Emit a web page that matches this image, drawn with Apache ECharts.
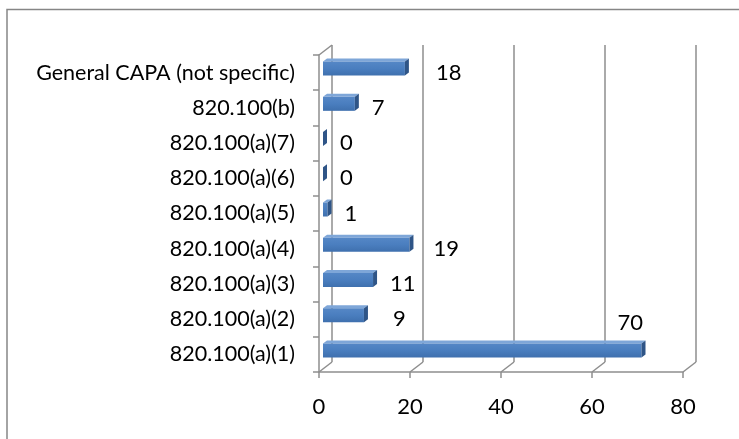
<!DOCTYPE html>
<html>
<head>
<meta charset="utf-8">
<script src="https://cdn.jsdelivr.net/npm/echarts@6/dist/echarts.min.js"></script>
<style>
  html, body { margin: 0; padding: 0; background: #ffffff; }
  #chart { width: 739px; height: 439px; }
</style>
</head>
<body>
<div id="chart"></div>
<script>
// Findings by regulation section (bottom to top on the axis)
const categories = [
  '820.100(a)(1)', '820.100(a)(2)', '820.100(a)(3)', '820.100(a)(4)',
  '820.100(a)(5)', '820.100(a)(6)', '820.100(a)(7)', '820.100(b)',
  'General CAPA (not specific)'
];
const counts = [70, 9, 11, 19, 1, 0, 0, 7, 18];
const xTicks = [0, 20, 40, 60, 80];

// Layout of the pseudo-3D frame and bars
const DEPTH_X = 13, DEPTH_Y = -10;      // back wall offset
const BAR_X = 4, BAR_Y = -4;            // bar sits a little into the depth
const BAR_HALF = 7;                     // half thickness of the bar face
const CAP_X = 4, CAP_Y = -3;            // visible end / top faces
const LABEL_GAP = 13;
// hand placed data-label nudges (dx, dy) per bar
const labelNudgeX = [-41, 12, 0, 7, 0, 0, 0, 0, 14];
const labelNudgeY = [-31, 0, 0, 0, 0, 0, 0, 0, 0];

const FONT = 'Lato, "Open Sans", sans-serif';
const GRID_COLOR = '#8e8e8e';

const chart = echarts.init(document.getElementById('chart'), null, { renderer: 'canvas' });

function frameItem(params, api) {
  const v = api.value(0);
  const band = api.size([0, 1])[1];
  const lastCat = categories.length - 1;
  const pBottom = api.coord([v, 0]);
  const pTop = api.coord([v, lastCat]);
  const x = pBottom[0];
  const yb = pBottom[1] + band / 2;
  const yt = pTop[1] - band / 2;
  const style = { stroke: GRID_COLOR, lineWidth: 1.5, fill: null };
  const children = [
    { type: 'line', shape: { x1: x + DEPTH_X, y1: yt + DEPTH_Y, x2: x + DEPTH_X, y2: yb + DEPTH_Y }, style },
    { type: 'line', shape: { x1: x, y1: yb, x2: x + DEPTH_X, y2: yb + DEPTH_Y }, style }
  ];
  if (v === 0) {
    children.push({ type: 'line', shape: { x1: x, y1: yt, x2: x + DEPTH_X, y2: yt + DEPTH_Y }, style });
  }
  return { type: 'group', children };
}

function barItem(params, api) {
  const idx = api.value(0);
  const val = api.value(1);
  const p0 = api.coord([0, idx]);
  const p1 = api.coord([val, idx]);
  const x0 = p0[0] + BAR_X;
  const x1 = p1[0] + BAR_X;
  const yc = p0[1] + BAR_Y;
  const top = yc - BAR_HALF, bot = yc + BAR_HALF;
  const face = {
    type: 'linear', x: 0, y: 0, x2: 0, y2: 1,
    colorStops: [
      { offset: 0, color: '#5587c6' },
      { offset: 0.5, color: '#4a7ebf' },
      { offset: 1, color: '#3f70ae' }
    ]
  };
  const children = [
    { type: 'polygon', shape: { points: [[x0, top], [x0 + CAP_X, top + CAP_Y], [x1 + CAP_X, top + CAP_Y], [x1, top]] },
      style: { fill: '#7ea6d8' } },
    { type: 'rect', shape: { x: x0, y: top, width: Math.max(x1 - x0, 0), height: bot - top },
      style: { fill: face } },
    { type: 'polygon', shape: { points: [[x1, top], [x1 + CAP_X, top + CAP_Y], [x1 + CAP_X, bot + CAP_Y], [x1, bot]] },
      style: { fill: '#2f5587' } },
    { type: 'text', x: x1 + CAP_X + LABEL_GAP + labelNudgeX[idx], y: p0[1] + labelNudgeY[idx],
      style: { text: String(val), fill: '#000', font: '22px ' + FONT, align: 'left', verticalAlign: 'middle' } }
  ];
  return { type: 'group', children };
}

chart.setOption({
  animation: false,
  backgroundColor: '#ffffff',
  graphic: [{
    type: 'rect', shape: { x: 7, y: 9.5, width: 760, height: 460 },
    style: { fill: null, stroke: '#868686', lineWidth: 1.5 }, silent: true
  }],
  grid: { left: 319, right: 56, top: 55, bottom: 67 },
  xAxis: {
    type: 'value', min: 0, max: 80, interval: 20,
    axisLine: { show: true, lineStyle: { color: GRID_COLOR, width: 1.5 } },
    axisTick: { show: true, length: 6, lineStyle: { color: GRID_COLOR, width: 1.5 } },
    splitLine: { show: false },
    axisLabel: { color: '#000', fontSize: 22, fontFamily: FONT, margin: 24 }
  },
  yAxis: {
    type: 'category', data: categories,
    axisLine: { show: true, lineStyle: { color: GRID_COLOR, width: 1.5 } },
    axisTick: { show: true, length: 6, lineStyle: { color: GRID_COLOR, width: 1.5 } },
    axisLabel: { color: '#000', fontSize: 21.5, fontFamily: FONT, margin: 24 }
  },
  series: [
    {
      type: 'custom', name: 'frame', silent: true, z: 1,
      data: xTicks.map(v => [v]),
      encode: { x: 0 },
      renderItem: frameItem
    },
    {
      type: 'custom', name: 'count', z: 3,
      data: counts.map((v, i) => [i, v]),
      encode: { y: 0, x: 1 },
      renderItem: barItem
    }
  ]
});
</script>
</body>
</html>
